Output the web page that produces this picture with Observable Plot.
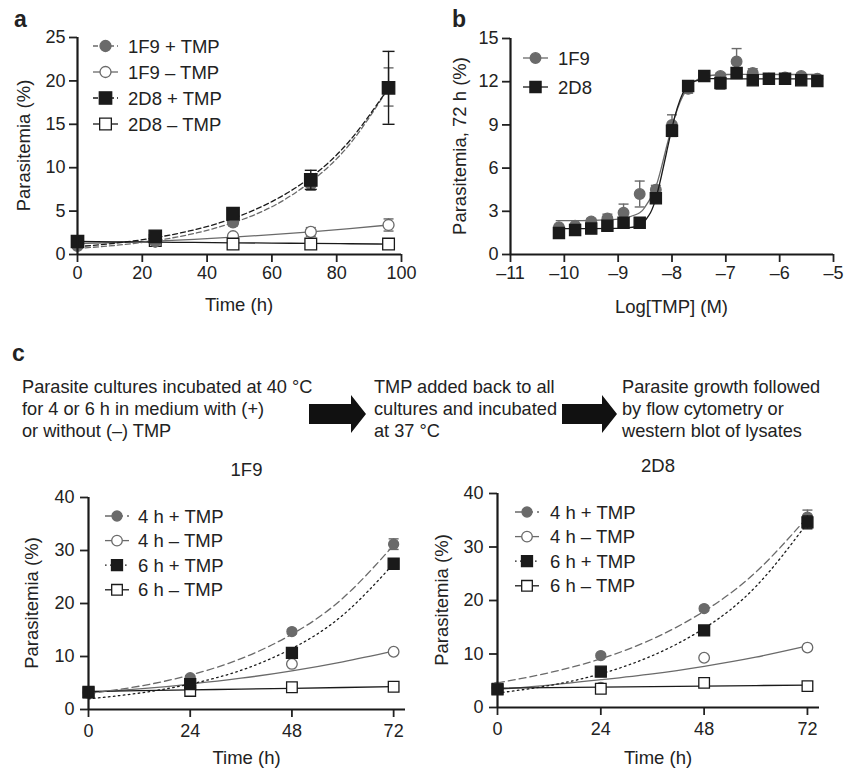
<!DOCTYPE html>
<html><head><meta charset="utf-8">
<script src="https://cdn.jsdelivr.net/npm/d3@7"></script>
<script src="https://cdn.jsdelivr.net/npm/@observablehq/plot@0.6"></script>
<style>
body{margin:0;background:#fff;}
#fig{position:relative;width:844px;height:771px;font-family:"Liberation Sans",Arial,sans-serif;color:#222;overflow:hidden;background:#fff}
.lbl{position:absolute;font-weight:bold;font-size:23px;line-height:1}
.flow{position:absolute;font-size:18.2px;line-height:22px;white-space:nowrap;color:#222}
.xl{position:absolute;font-size:18.5px;line-height:22px;white-space:nowrap;color:#222;font-weight:normal;transform:translate(-50%,-50%)}
</style></head><body><div id="fig"></div>
<script>
// ---------- Panel a data ----------
const timeA = [0, 24, 48, 72, 96];
const seriesA = ["1F9 + TMP", "1F9 \u2013 TMP", "2D8 + TMP", "2D8 \u2013 TMP"];
const a1F9plus = [1.0, 1.5, 3.7, 8.1, 19.3];
const a1F9plusErr = [0.2, 0.2, 0.4, 0.7, 2.2];
const a1F9minus = [1.2, 1.5, 2.1, 2.6, 3.4];
const a1F9minusErr = [0.1, 0.1, 0.2, 0.5, 0.7];
const a2D8plus = [1.5, 2.1, 4.7, 8.6, 19.2];
const a2D8plusErr = [0.2, 0.2, 0.6, 1.1, 4.2];
const a2D8minus = [1.5, 1.6, 1.2, 1.2, 1.2];
const a2D8minusErr = [0.1, 0.1, 0.1, 0.1, 0.1];
const fitTimeA = [0, 12, 24, 36, 48, 60, 72, 84, 96];
const aFit1F9plus = [0.7, 1.06, 1.6, 2.42, 3.66, 5.5, 8.4, 12.7, 19.2];
const aFit1F9minus = [1.25, 1.38, 1.55, 1.75, 2.0, 2.28, 2.6, 2.98, 3.4];
const aFit2D8plus = [0.9, 1.32, 1.94, 2.84, 4.16, 6.1, 8.9, 13.1, 19.2];
const aFit2D8minus = [1.5, 1.46, 1.42, 1.39, 1.35, 1.31, 1.28, 1.24, 1.2];
const xTicksA = [0, 20, 40, 60, 80, 100];
const yTicksA = [0, 5, 10, 15, 20, 25];

// ---------- Panel b data ----------
const logTMP = [-10.1, -9.8, -9.5, -9.2, -8.9, -8.6, -8.3, -8.0, -7.7, -7.4, -7.1, -6.8, -6.5, -6.2, -5.9, -5.6, -5.3];
const seriesB = ["1F9", "2D8"];
const b1F9 = [1.9, 2.0, 2.3, 2.5, 2.9, 4.2, 4.5, 9.0, 11.5, 12.4, 12.4, 13.4, 12.6, 12.2, 12.3, 12.4, 12.2];
const b1F9Err = [0.1, 0.1, 0.2, 0.3, 0.6, 0.9, 0.3, 0.7, 0.3, 0.2, 0.2, 0.9, 0.3, 0.2, 0.2, 0.2, 0.1];
const b2D8 = [1.5, 1.7, 1.8, 2.0, 2.2, 2.2, 3.9, 8.6, 11.7, 12.4, 11.9, 12.6, 12.1, 12.2, 12.2, 12.1, 12.05];
const b2D8Err = [0.1, 0.1, 0.1, 0.1, 0.1, 0.1, 0.2, 0.4, 0.2, 0.2, 0.4, 0.3, 0.2, 0.1, 0.1, 0.1, 0.1];
const fitLogB = [-10.15, -9.5, -9.0, -8.8, -8.6, -8.5, -8.4, -8.3, -8.2, -8.1, -8.0, -7.9, -7.8, -7.7, -7.6, -7.4, -7.0, -6.0, -5.25];
const bFit1F9 = [2.35, 2.36, 2.45, 2.6, 2.9, 3.3, 3.9, 4.7, 6.0, 7.5, 8.9, 10.1, 11.0, 11.6, 12.0, 12.35, 12.5, 12.5, 12.5];
const bFit2D8 = [1.8, 1.8, 1.82, 1.86, 2.0, 2.35, 2.9, 3.9, 5.4, 7.1, 8.8, 10.2, 11.2, 11.8, 12.0, 12.2, 12.2, 12.2, 12.2];
const xTicksB = [-11, -10, -9, -8, -7, -6, -5];
const yTicksB = [0, 3, 6, 9, 12, 15];

// ---------- Panel c data ----------
const timeC = [0, 24, 48, 72];
const seriesC = ["4 h + TMP", "4 h \u2013 TMP", "6 h + TMP", "6 h \u2013 TMP"];
const c1F9_4plus = [3.0, 6.0, 14.7, 31.2];
const c1F9_4minus = [3.2, 3.6, 8.6, 10.9];
const c1F9_6plus = [3.3, 4.8, 10.7, 27.5];
const c1F9_6minus = [3.2, 3.5, 4.2, 4.3];
const c1F9Err = [[0.2, 0.3, 0.4, 1.0], [0.2, 0.2, 0.3, 0.3], [0.2, 0.2, 0.3, 0.7], [0.2, 0.2, 0.2, 0.2]];
const c2D8_4plus = [3.8, 9.7, 18.5, 35.6];
const c2D8_4minus = [3.7, 3.7, 9.3, 11.2];
const c2D8_6plus = [3.4, 6.7, 14.4, 34.6];
const c2D8_6minus = [3.5, 3.5, 4.6, 4.0];
const c2D8Err = [[0.2, 0.3, 0.4, 1.3], [0.2, 0.2, 0.3, 0.3], [0.2, 0.3, 0.4, 1.2], [0.2, 0.2, 0.3, 0.2]];
const fitTimeC = [0, 12, 24, 36, 48, 60, 72];
const c1F9Fit = [
  [3.0, 4.4, 6.5, 9.6, 14.2, 21.0, 31.0],
  [3.2, 3.9, 4.8, 5.9, 7.3, 9.0, 11.0],
  [2.0, 3.1, 4.8, 7.4, 11.5, 17.8, 27.5],
  [3.4, 3.55, 3.7, 3.85, 4.0, 4.15, 4.3]
];
const c2D8Fit = [
  [4.6, 6.5, 9.1, 12.8, 18.0, 25.3, 35.6],
  [3.4, 4.2, 5.2, 6.3, 7.7, 9.4, 11.5],
  [2.7, 4.1, 6.3, 9.7, 14.8, 22.6, 34.5],
  [3.6, 3.7, 3.8, 3.9, 4.0, 4.1, 4.2]
];
const xTicksC = [0, 24, 48, 72];
const yTicksC = [0, 10, 20, 30, 40];

// ---------- helpers ----------
const GRAY = "#6a6a6a", BLACK = "#1a1a1a";
const fig = document.getElementById("fig");
function place(node, left, top) {
  node.style.position = "absolute"; node.style.left = left + "px"; node.style.top = top + "px";
  fig.appendChild(node);
}
function addDiv(cls, html, left, top) {
  const d = document.createElement("div"); d.className = cls; d.innerHTML = html;
  d.style.left = left + "px"; d.style.top = top + "px"; fig.appendChild(d); return d;
}
const capSym = {draw(ctx, size) { const r = Math.sqrt(size / Math.PI); ctx.moveTo(-r, 0); ctx.lineTo(r, 0); }};
const dashFmt = d => d < 0 ? "\u2013" + (-d) : String(d);

// rotated y label / title placed relative to the frame
function frameText(str, o) {
  return (index, scales, values, dim) => {
    const fx0 = dim.marginLeft, fx1 = dim.width - dim.marginRight;
    const fy0 = dim.marginTop, fy1 = dim.height - dim.marginBottom;
    let x, y;
    if (o.anchor === "top") { x = (fx0 + fx1) / 2; y = fy0 + o.off; }
    else { x = fx0 + o.off; y = (fy0 + fy1) / 2; }
    const t = d3.create("svg:text").attr("text-anchor", "middle").attr("dy", "0.35em")
      .attr("font-size", 18.5).attr("font-weight", "normal").attr("fill", "#222")
      .attr("transform", `translate(${x},${y})` + (o.anchor === "left" ? " rotate(-90)" : ""))
      .text(str);
    return t.node();
  };
}
function frameAxes(o) {
  return [
    Plot.axisX({ticks: o.xTicks, tickSize: 8, tickPadding: o.padX ?? 4, strokeWidth: 1.8, label: null, fontSize: 18, tickFormat: dashFmt}),
    Plot.axisY({ticks: o.yTicks, tickSize: 8, tickPadding: o.padY ?? 4, strokeWidth: 1.8, label: null, fontSize: 18, tickFormat: dashFmt}),
    Plot.ruleX([o.xTicks[0]], {stroke: BLACK, strokeWidth: 2.2}),
    Plot.ruleY([0], {stroke: BLACK, strokeWidth: 2.2}),
    frameText(o.yLabel, {anchor: "left", off: o.yLabelDx})
  ];
}
// x-axis title as page text, centred under the frame
function xTitle(str, left, top, p) {
  const ml = p.ml, w = p.w, mr = p.mr;
  addDiv("xl", str, left + ml + (w - ml - mr) / 2, top + p.y);
}
function legendMark(items, o) {
  return () => {
    const g = d3.create("svg:g");
    items.forEach((it, i) => {
      const y = o.y0 + i * o.dy;
      g.append("line").attr("x1", o.x0).attr("x2", o.x0 + o.len).attr("y1", y).attr("y2", y)
        .attr("stroke", it.stroke).attr("stroke-width", 1.3).attr("stroke-dasharray", it.dash || null);
      const type = it.symbol === "square" ? d3.symbolSquare : d3.symbolCircle;
      g.append("path").attr("d", d3.symbol(type, Math.PI * it.r * it.r)())
        .attr("transform", `translate(${o.x0 + o.len / 2},${y})`)
        .attr("fill", it.fill).attr("stroke", it.mstroke).attr("stroke-width", 1.3);
      g.append("text").attr("x", o.tx).attr("y", y).attr("dy", "0.36em").attr("font-size", 18.5)
        .attr("text-anchor", "start").attr("fill", "#222").text(it.label);
    });
    return g.node();
  };
}
function seriesMarks(pts, fit, st) {
  return [
    Plot.line(fit, {x: "t", y: "y", stroke: st.stroke, strokeWidth: 1.3, strokeDasharray: st.dash, curve: "natural"}),
    Plot.ruleX(pts, {x: "t", y1: d => d.y - d.e, y2: d => d.y + d.e, stroke: st.mstroke, strokeWidth: 1.4}),
    Plot.dot(pts, {x: "t", y: d => d.y + d.e, symbol: capSym, r: st.cap, stroke: st.mstroke, strokeWidth: 1.4}),
    Plot.dot(pts, {x: "t", y: d => d.y - d.e, symbol: capSym, r: st.cap, stroke: st.mstroke, strokeWidth: 1.4}),
    Plot.dot(pts, {x: "t", y: "y", symbol: st.symbol, r: st.r, fill: st.fill, stroke: st.mstroke, strokeWidth: 1.3})
  ];
}
const rowsOf = (xs, ys, es) => xs.map((t, i) => ({t, y: ys[i], e: es ? es[i] : 0}));
const plotStyle = {fontFamily: "Liberation Sans, Arial, sans-serif", fontSize: "18px", color: "#222", background: "transparent", overflow: "visible"};

// ---------- Panel a ----------
{
  const st = [
    {stroke: GRAY, dash: "5,3", symbol: "circle", fill: GRAY, mstroke: GRAY, r: 5.5, cap: 5},
    {stroke: GRAY, dash: null, symbol: "circle", fill: "white", mstroke: GRAY, r: 5.5, cap: 5},
    {stroke: BLACK, dash: "5,3", symbol: "square", fill: BLACK, mstroke: BLACK, r: 7, cap: 6},
    {stroke: BLACK, dash: null, symbol: "square", fill: "white", mstroke: BLACK, r: 6.6, cap: 5}
  ];
  const vals = [a1F9plus, a1F9minus, a2D8plus, a2D8minus];
  const errs = [a1F9plusErr, a1F9minusErr, a2D8plusErr, a2D8minusErr];
  const fits = [aFit1F9plus, aFit1F9minus, aFit2D8plus, aFit2D8minus];
  const order = [1, 3, 0, 2];
  const left = 0, top = 0;
  const p = Plot.plot({
    width: 420, height: 320, marginLeft: 77, marginRight: 19, marginTop: 37, marginBottom: 66,
    style: plotStyle,
    x: {domain: [0, 100]}, y: {domain: [0, 25]},
    marks: [
      ...order.flatMap(k => seriesMarks(rowsOf(timeA, vals[k], errs[k]), rowsOf(fitTimeA, fits[k]), st[k])),
      ...frameAxes({xTicks: xTicksA, yTicks: yTicksA, yLabel: "Parasitemia (%)", yLabelDx: -53}),
      legendMark(seriesA.map((s, k) => ({label: s, ...st[k]})), {x0: 93 - left, len: 25, y0: 46 - top, dy: 26, tx: 128 - left})
    ]
  });
  place(p, left, top);
  xTitle("Time (h)", left, top, {ml: 77, mr: 19, w: 420, y: 254 + 51});
}

// ---------- Panel b ----------
{
  const st = [
    {stroke: GRAY, dash: null, symbol: "circle", fill: GRAY, mstroke: GRAY, r: 5.3, cap: 5},
    {stroke: BLACK, dash: null, symbol: "square", fill: BLACK, mstroke: BLACK, r: 6.3, cap: 5}
  ];
  const vals = [b1F9, b2D8], errs = [b1F9Err, b2D8Err], fits = [bFit1F9, bFit2D8];
  const left = 420, top = 0;
  const p = Plot.plot({
    width: 424, height: 320, marginLeft: 90, marginRight: 11, marginTop: 38, marginBottom: 66,
    style: plotStyle,
    x: {domain: [-11, -5]}, y: {domain: [0, 15]},
    marks: [
      ...[0, 1].flatMap(k => seriesMarks(rowsOf(logTMP, vals[k], errs[k]), rowsOf(fitLogB, fits[k]), st[k])),
      ...frameAxes({xTicks: xTicksB, yTicks: yTicksB, yLabel: "Parasitemia, 72 h (%)", yLabelDx: -50}),
      legendMark(seriesB.map((s, k) => ({label: s, ...st[k]})), {x0: 523 - left, len: 25, y0: 58 - top, dy: 29, tx: 558 - left})
    ]
  });
  place(p, left, top);
  xTitle("Log[TMP] (M)", left, top, {ml: 90, mr: 11, w: 424, y: 254 + 53});
}

// ---------- Panel c charts ----------
function panelC(name, vals, errs, fits, geo) {
  const st = [
    {stroke: GRAY, dash: "7,4", symbol: "circle", fill: GRAY, mstroke: GRAY, r: 5, cap: 5},
    {stroke: GRAY, dash: null, symbol: "circle", fill: "white", mstroke: GRAY, r: 5.3, cap: 5},
    {stroke: BLACK, dash: "1.6,3.4", symbol: "square", fill: BLACK, mstroke: BLACK, r: 6.2, cap: 5},
    {stroke: BLACK, dash: null, symbol: "square", fill: "white", mstroke: BLACK, r: 6, cap: 5}
  ];
  const order = [1, 3, 0, 2];
  const p = Plot.plot({
    width: geo.width, height: 331, marginLeft: geo.ml, marginRight: geo.mr, marginTop: geo.mt, marginBottom: geo.mb,
    style: plotStyle,
    x: {domain: [0, 74.8]}, y: {domain: [0, 40]},
    marks: [
      ...order.flatMap(k => seriesMarks(rowsOf(timeC, vals[k], errs[k]), rowsOf(fitTimeC, fits[k]), st[k])),
      ...frameAxes({xTicks: xTicksC, yTicks: yTicksC, yLabel: "Parasitemia (%)", yLabelDx: geo.ydx, padY: 6, padX: 7}),
      frameText(name, {anchor: "top", off: -27}),
      legendMark(seriesC.map((s, k) => ({label: s, ...st[k]})), {x0: geo.lx - geo.left, len: 24, y0: geo.ly - geo.top, dy: 24.6, tx: geo.tx - geo.left})
    ]
  });
  place(p, geo.left, geo.top);
  xTitle("Time (h)", geo.left, geo.top, {ml: geo.ml, mr: geo.mr, w: geo.width, y: 331 - geo.mb + geo.xdy});
}
panelC("1F9", [c1F9_4plus, c1F9_4minus, c1F9_6plus, c1F9_6minus], c1F9Err, c1F9Fit,
  {left: 0, top: 440, width: 420, ml: 88, mr: 15, mt: 57, mb: 62, xdy: 49, ydx: -56, lx: 105, ly: 516, tx: 138});
panelC("2D8", [c2D8_4plus, c2D8_4minus, c2D8_6plus, c2D8_6minus], c2D8Err, c2D8Fit,
  {left: 420, top: 440, width: 424, ml: 77, mr: 25, mt: 53, mb: 64, xdy: 51, ydx: -55, lx: 515, ly: 512, tx: 550});

// ---------- labels & flow chart ----------
addDiv("lbl", "a", 14, 8);
addDiv("lbl", "b", 452, 8);
addDiv("lbl", "c", 12, 342);
const flowText = [
  "Parasite cultures incubated at 40 \u00b0C<br>for 4 or 6 h in medium with (+)<br>or without (\u2013) TMP",
  "TMP added back to all<br>cultures and incubated<br>at 37 \u00b0C",
  "Parasite growth followed<br>by flow cytometry or<br>western blot of lysates"
];
const flowX = [22, 374, 622];
flowText.forEach((t, i) => addDiv("flow", t, flowX[i], 376));
const svgNS = "http://www.w3.org/2000/svg";
const arr = document.createElementNS(svgNS, "svg");
arr.setAttribute("width", 844); arr.setAttribute("height", 771);
arr.style.position = "absolute"; arr.style.left = "0"; arr.style.top = "0"; arr.style.pointerEvents = "none";
[[309, 366], [562, 617]].forEach(([x0, x1]) => {
  const hx = x1 - 15, yc = 414, sh = 10, hh = 19;
  const poly = document.createElementNS(svgNS, "polygon");
  poly.setAttribute("points", `${x0},${yc - sh} ${hx},${yc - sh} ${hx},${yc - hh} ${x1},${yc} ${hx},${yc + hh} ${hx},${yc + sh} ${x0},${yc + sh}`);
  poly.setAttribute("fill", "#111");
  arr.appendChild(poly);
});
fig.appendChild(arr);
</script></body></html>
